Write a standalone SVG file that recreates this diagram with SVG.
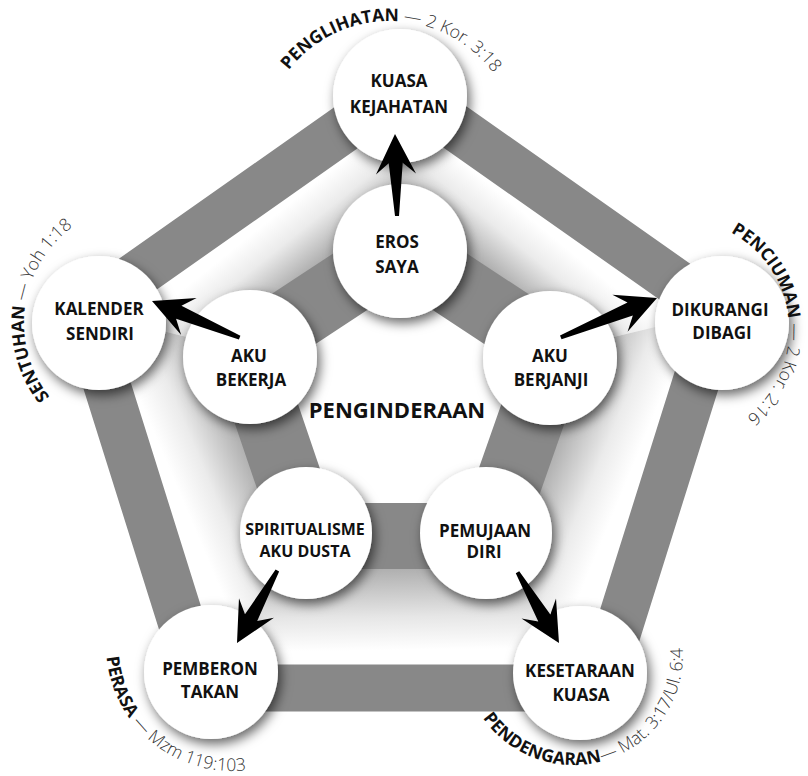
<svg xmlns="http://www.w3.org/2000/svg" width="808" height="776" viewBox="0 0 808 776">
<defs>
<style>
.band{fill:none;stroke:#888888;stroke-linejoin:miter}
.node{fill:#ffffff;filter:url(#sh)}
.nt{font-family:"Open Sans","Liberation Sans",sans-serif;font-weight:700;font-size:17px;fill:#111;text-anchor:middle}
.lab{font-family:"Open Sans","Liberation Sans",sans-serif;font-size:17.5px;fill:#111}
.kw{font-weight:700}
.ref{font-weight:300;fill:#333}
.arrow{fill:#000}
</style>
<filter id="sh" x="-40%" y="-40%" width="180%" height="180%">
<feDropShadow dx="3" dy="5" stdDeviation="6" flood-color="#000" flood-opacity="0.6"/>
</filter>
<linearGradient id="g0" gradientUnits="userSpaceOnUse" x1="242.5" y1="200.5" x2="322.5" y2="300">
<stop offset="0" stop-color="#fff"/><stop offset="0.25" stop-color="#fff"/><stop offset="0.47" stop-color="#ebebeb"/><stop offset="0.75" stop-color="#b0b0b0"/><stop offset="1" stop-color="#999"/>
</linearGradient>
<linearGradient id="g1" gradientUnits="userSpaceOnUse" x1="559.5" y1="200.5" x2="477.5" y2="300">
<stop offset="0" stop-color="#fff"/><stop offset="0.25" stop-color="#fff"/><stop offset="0.47" stop-color="#ebebeb"/><stop offset="0.75" stop-color="#b0b0b0"/><stop offset="1" stop-color="#999"/>
</linearGradient>
<linearGradient id="g2" gradientUnits="userSpaceOnUse" x1="659" y1="500" x2="522.5" y2="443.5">
<stop offset="0" stop-color="#fff"/><stop offset="0.25" stop-color="#fff"/><stop offset="0.47" stop-color="#ebebeb"/><stop offset="0.78" stop-color="#b0b0b0"/><stop offset="1" stop-color="#999"/>
</linearGradient>
<linearGradient id="g3" gradientUnits="userSpaceOnUse" x1="401" y1="688" x2="399" y2="536">
<stop offset="0" stop-color="#fff"/><stop offset="0.25" stop-color="#fff"/><stop offset="0.47" stop-color="#e6e6e6"/><stop offset="0.78" stop-color="#b0b0b0"/><stop offset="1" stop-color="#999"/>
</linearGradient>
<linearGradient id="g4" gradientUnits="userSpaceOnUse" x1="143" y1="500" x2="276.5" y2="443.5">
<stop offset="0" stop-color="#fff"/><stop offset="0.25" stop-color="#fff"/><stop offset="0.47" stop-color="#ebebeb"/><stop offset="0.78" stop-color="#b0b0b0"/><stop offset="1" stop-color="#999"/>
</linearGradient>
<path id="arc-penglihatan" d="M 261 150 A 129 129 0 1 1 519 150 A 129 129 0 1 1 261 150"/>
<path id="arc-penciuman" d="M 678 219 A 111 111 0 1 1 678 441 A 111 111 0 1 1 678 219"/>
<path id="arc-sentuhan" d="M 143 442 A 119 119 0 1 1 143 204 A 119 119 0 1 1 143 442"/>
<path id="arc-perasa" d="M 113.6 601.9 A 126 126 0 1 0 350.4 688.1 A 126 126 0 1 0 113.6 601.9"/>
<path id="arc-pendengaran" d="M 463 655 A 110 110 0 1 0 683 655 A 110 110 0 1 0 463 655"/>
</defs>
<rect width="808" height="776" fill="#fff"/>

<g id="background">
<polygon points="84,312 401,89 400,249 245,351" fill="url(#g0)"/>
<polygon points="401,89 718,312 555,351 400,249" fill="url(#g1)"/>
<polygon points="718,312 600,688 490,536 555,351" fill="url(#g2)"/>
<polygon points="600,688 202,688 308,536 490,536" fill="url(#g3)"/>
<polygon points="202,688 84,312 245,351 308,536" fill="url(#g4)"/>
<polygon points="400,249 555,351 490,536 308,536 245,351" fill="#fff"/>
<polygon class="band" stroke-width="47" points="401,89 718,312 600,688 202,688 84,312"/>
<polygon class="band" stroke-width="66" points="400,249 555,351 490,536 308,536 245,351"/>
</g>

<g id="node-kuasa-kejahatan">
<circle class="node" cx="400" cy="96" r="67"/>
<text class="nt" x="399" y="87">KUASA</text>
<text class="nt" x="399" y="113">KEJAHATAN</text>
</g>
<g id="node-dikurangi-dibagi">
<circle class="node" cx="722" cy="323" r="67"/>
<text class="nt" x="720" y="316">DIKURANGI</text>
<text class="nt" x="722" y="339">DIBAGI</text>
</g>
<g id="node-kesetaraan-kuasa">
<circle class="node" cx="580" cy="673" r="67"/>
<text class="nt" x="580" y="677">KESETARAAN</text>
<text class="nt" x="581" y="701">KUASA</text>
</g>
<g id="node-pemberon-takan">
<circle class="node" cx="211" cy="672" r="67"/>
<text class="nt" x="210" y="675">PEMBERON</text>
<text class="nt" x="210" y="698">TAKAN</text>
</g>
<g id="node-kalender-sendiri">
<circle class="node" cx="99" cy="323" r="67"/>
<text class="nt" x="99" y="315">KALENDER</text>
<text class="nt" x="100" y="340">SENDIRI</text>
</g>
<g id="node-eros-saya">
<circle class="node" cx="400" cy="251" r="67"/>
<text class="nt" x="397" y="248">EROS</text>
<text class="nt" x="397" y="273">SAYA</text>
</g>
<g id="node-aku-berjanji">
<circle class="node" cx="550" cy="358" r="67"/>
<text class="nt" x="550" y="362">AKU</text>
<text class="nt" x="551" y="386">BERJANJI</text>
</g>
<g id="node-pemujaan-diri">
<circle class="node" cx="486" cy="533" r="66"/>
<text class="nt" x="485" y="537">PEMUJAAN</text>
<text class="nt" x="484" y="558">DIRI</text>
</g>
<g id="node-spiritualisme">
<circle class="node" cx="306" cy="533" r="66"/>
<text class="nt" x="305" y="535" style="font-size:16px">SPIRITUALISME</text>
<text class="nt" x="305" y="557" style="font-size:16px">AKU DUSTA</text>
</g>
<g id="node-aku-bekerja">
<circle class="node" cx="250" cy="357" r="67"/>
<text class="nt" x="249" y="362">AKU</text>
<text class="nt" x="251" y="386">BEKERJA</text>
</g>

<g id="center-label">
<text class="nt" x="397" y="418" style="font-size:22px">PENGINDERAAN</text>
</g>

<g id="connectors">
<path class="arrow" transform="translate(395,134) rotate(-91.4)" d="M0 0 L-40 -20 L-29 -7 L-82 -2 L-82 2 L-29 7 L-40 20 Z"/>
<path class="arrow" transform="translate(152,301) rotate(202.7)" d="M0 0 L-40 -20 L-29 -7 L-95 -2 L-95 2 L-29 7 L-40 20 Z"/>
<path class="arrow" transform="translate(657,298) rotate(-22.3)" d="M0 0 L-40 -20 L-29 -7 L-104 -2 L-104 2 L-29 7 L-40 20 Z"/>
<path class="arrow" transform="translate(237,643) rotate(119.1)" d="M0 0 L-40 -20 L-29 -7 L-83 -2 L-83 2 L-29 7 L-40 20 Z"/>
<path class="arrow" transform="translate(559,643) rotate(59.6)" d="M0 0 L-40 -20 L-29 -7 L-82 -2 L-82 2 L-29 7 L-40 20 Z"/>
</g>

<g id="labels">
<text class="lab"><textPath href="#arc-penglihatan" startOffset="86"><tspan class="kw">PENGLIHATAN</tspan><tspan class="ref"> — 2 Kor. 3:18</tspan></textPath></text>
<text class="lab"><textPath href="#arc-penciuman" startOffset="55"><tspan class="kw">PENCIUMAN</tspan><tspan class="ref"> — 2 Kor. 2:16</tspan></textPath></text>
<text class="lab"><textPath href="#arc-sentuhan" startOffset="107"><tspan class="kw">SENTUHAN</tspan><tspan class="ref"> — Yoh 1:18</tspan></textPath></text>
<text class="lab"><textPath href="#arc-perasa" startOffset="56"><tspan class="kw">PERASA</tspan><tspan class="ref"> — Mzm 119:103</tspan></textPath></text>
<text class="lab"><textPath href="#arc-pendengaran" startOffset="67"><tspan class="kw">PENDENGARAN</tspan><tspan class="ref">— Mat. 3:17/Ul. 6:4</tspan></textPath></text>
</g>
</svg>
